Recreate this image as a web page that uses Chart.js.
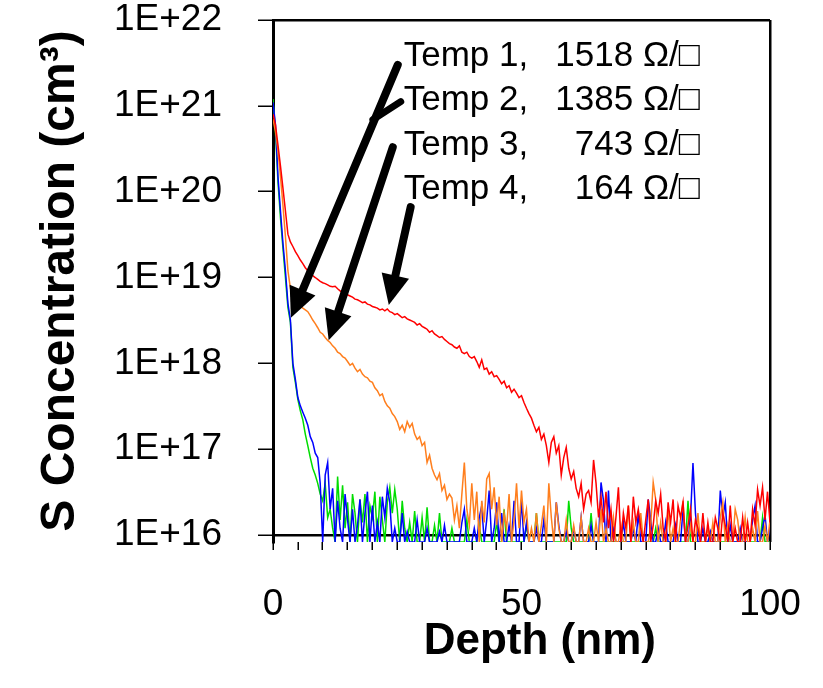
<!DOCTYPE html>
<html>
<head>
<meta charset="utf-8">
<script src="https://cdn.jsdelivr.net/npm/chart.js@4.4.1/dist/chart.umd.min.js"></script>
<style>
html, body { margin: 0; padding: 0; background: #fff; }
</style>
</head>
<body>
<canvas id="profile" width="823" height="688"></canvas>
<script>
// floor of the SIMS noise (just under the 1E+16 line)
const F = 8.3e15;

const depth = [
  0,0.5,1,1.5,2,2.5,3,3.5,4,4.5,5,5.5,6,6.5,7,7.5,8,8.5,9,9.5,
  10,10.5,11,11.5,12,12.5,13,13.5,14,14.5,15,15.5,16,16.5,17,17.5,18,18.5,19,19.5,
  20,20.5,21,21.5,22,22.5,23,23.5,24,24.5,25,25.5,26,26.5,27,27.5,28,28.5,29,29.5,
  30,30.5,31,31.5,32,32.5,33,33.5,34,34.5,35,35.5,36,36.5,37,37.5,38,38.5,39,39.5,
  40,40.5,41,41.5,42,42.5,43,43.5,44,44.5,45,45.5,46,46.5,47,47.5,48,48.5,49,49.5,
  50,50.5,51,51.5,52,52.5,53,53.5,54,54.5,55,55.5,56,56.5,57,57.5,58,58.5,59,59.5,
  60,60.5,61,61.5,62,62.5,63,63.5,64,64.5,65,65.5,66,66.5,67,67.5,68,68.5,69,69.5,
  70,70.5,71,71.5,72,72.5,73,73.5,74,74.5,75,75.5,76,76.5,77,77.5,78,78.5,79,79.5,
  80,80.5,81,81.5,82,82.5,83,83.5,84,84.5,85,85.5,86,86.5,87,87.5,88,88.5,89,89.5,
  90,90.5,91,91.5,92,92.5,93,93.5,94,94.5,95,95.5,96,96.5,97,97.5,98,98.5,99,99.5,
  100
];

// Temp 1 (blue)
const temp1 = [
  1.1e21,6e20,1.5e20,6e19,2.5e19,1.2e19,5e18,3.2e18,1e18,6.5e17,4e17,3.2e17,2.7e17,2.3e17,1.9e17,1.4e17,1.2e17,9e16,8e16,4e16,
  F,5e16,7e16,2e16,3.5e16,F,2.5e16,1.2e16,F,3e16,1.5e16,F,2e16,F,1.3e16,2.6e16,F,1.8e16,3.2e16,F,
  2.2e16,F,1.4e16,F,2.8e16,1.6e16,3.5e16,2.4e16,F,1.2e16,F,F,1.8e16,F,1.1e16,F,F,F,1.5e16,F,
  F,F,1.2e16,F,F,F,F,1.1e16,F,1.3e16,F,F,F,F,F,F,1.4e16,2e16,F,F,
  F,1.2e16,F,1.6e16,2.2e16,F,1.5e16,3.3e16,F,1.2e16,2.4e16,F,1.8e16,F,F,1.3e16,F,2.5e16,F,F,
  2.6e16,F,1.4e16,F,F,F,1.2e16,F,F,1.5e16,F,F,F,F,2.4e16,1.3e16,F,F,1.1e16,F,
  F,1.2e16,F,F,1.6e16,F,F,F,1.3e16,F,F,F,4.1e16,2.5e16,F,3.3e16,F,1.2e16,F,F,
  F,1.4e16,F,F,F,1.2e16,F,1.8e16,F,F,F,2.6e16,1.5e16,F,F,1.2e16,F,F,1.4e16,F,
  F,F,1.3e16,F,F,2e16,F,F,1.6e16,6.9e16,1.8e16,F,F,1.2e16,F,F,1.1e16,F,F,F,
  3.3e16,1.6e16,2.4e16,F,1.3e16,F,F,F,1.2e16,F,F,F,F,1.5e16,2.2e16,F,F,1.2e16,1.7e16,F,
  1.2e16
];

// Temp 2 (green)
const temp2 = [
  1.2e21,5e20,1.3e20,5e19,2.2e19,1e19,4.5e18,3e18,9e17,6e17,3.8e17,2.8e17,2.2e17,1.5e17,1.1e17,8e16,6e16,5e16,4e16,3e16,
  2.5e16,4e16,1.6e16,2e16,1.2e16,F,4.8e16,1.5e16,3.8e16,1.2e16,2.4e16,F,3e16,1.8e16,F,2.6e16,1.4e16,3e16,F,2.2e16,
  1.6e16,3.2e16,F,2.8e16,1.5e16,F,2.4e16,3.6e16,1.8e16,3.4e16,2e16,F,2.5e16,1.2e16,F,1.4e16,F,1.9e16,F,F,
  1.6e16,F,2.1e16,F,F,1.3e16,F,1.8e16,F,F,F,F,1.2e16,F,F,F,F,F,1.5e16,F,
  F,F,F,1.3e16,F,F,F,F,F,F,1.4e16,F,F,2e16,F,F,F,F,F,F,
  F,F,1.3e16,F,F,F,1.8e16,F,F,F,F,F,F,F,F,F,F,F,F,2.5e16,
  1.2e16,F,F,F,F,F,F,F,1.8e16,F,F,F,F,F,F,F,F,F,F,F,
  F,F,F,F,F,F,F,F,F,F,F,F,F,F,1.2e16,F,F,F,F,F,
  F,F,F,F,F,F,F,2.5e16,F,F,F,F,F,F,F,F,F,F,F,F,
  F,F,F,F,F,F,F,F,F,F,F,F,F,F,F,F,F,1.6e16,F,F,
  F
];

// Temp 3 (orange)
const temp3 = [
  7e20,5e20,3e20,1.5e20,7e19,3e19,1.2e19,7.5e18,6e18,5.4e18,5e18,4.7e18,4.4e18,4.2e18,4e18,3.6e18,3.2e18,2.9e18,2.6e18,2.3e18,
  2.2e18,2e18,1.85e18,1.75e18,1.6e18,1.5e18,1.35e18,1.3e18,1.2e18,1.15e18,1.05e18,9.5e17,1e18,8.8e17,8e17,8.5e17,7.5e17,7e17,6.8e17,6.2e17,
  6e17,5.2e17,4.8e17,4.2e17,4.4e17,3.6e17,3.2e17,3e17,2.6e17,2.4e17,2.1e17,1.7e17,1.9e17,1.6e17,2.1e17,1.8e17,2e17,1.5e17,1.3e17,1.4e17,
  1.1e17,1.2e17,7e16,8.5e16,6e16,5e16,4.4e16,5.2e16,3.3e16,3.8e16,2.6e16,3e16,2.7e16,1.5e16,2.2e16,1.2e16,3e16,7e16,2e16,1.3e16,
  4e16,1.5e16,3.2e16,F,2.5e16,1.4e16,4.5e16,5.2e16,2e16,3.6e16,1.3e16,2.8e16,F,1.8e16,1.2e16,3e16,F,1.5e16,4e16,1.2e16,
  3.3e16,1.4e16,2e16,F,1.2e16,F,1.8e16,F,1.3e16,2.2e16,F,4e16,1.6e16,F,2.4e16,1.2e16,F,F,1.5e16,F,
  F,1.3e16,F,F,1.6e16,F,F,1.2e16,F,F,1.4e16,F,2e16,F,1.2e16,F,F,1.6e16,F,F,
  1.3e16,F,F,2.2e16,F,1.4e16,F,F,1.8e16,F,F,F,1.3e16,4.1e16,2.6e16,F,1.4e16,F,F,2e16,
  F,1.2e16,F,F,1.5e16,2.5e16,F,F,1.3e16,F,F,1.8e16,F,F,F,1.2e16,F,1.4e16,F,F,
  1.6e16,2.4e16,F,1.3e16,F,F,2e16,1.5e16,F,F,1.6e16,F,F,1.2e16,F,1.9e16,F,F,1.3e16,F,
  1.5e16
];

// Temp 4 (red)
const temp4 = [
  8e20,6e20,3.5e20,2e20,1.1e20,6e19,3.2e19,2.6e19,2.3e19,2e19,1.8e19,1.6e19,1.45e19,1.3e19,1.2e19,1.12e19,1.05e19,1e19,9.5e18,9e18,
  8.7e18,8.5e18,8.2e18,7.9e18,7.8e18,7.9e18,7.4e18,7e18,6.6e18,6.7e18,6.3e18,6.1e18,5.9e18,5.6e18,5.5e18,5.3e18,5.1e18,5.2e18,4.9e18,4.8e18,
  4.6e18,4.5e18,4.4e18,4.2e18,4.3e18,4.1e18,4.3e18,4e18,3.9e18,3.7e18,3.8e18,3.6e18,3.4e18,3.5e18,3.3e18,3.2e18,3.1e18,3e18,2.8e18,2.9e18,
  2.7e18,2.6e18,2.5e18,2.3e18,2.4e18,2.2e18,2.1e18,2e18,2.05e18,1.9e18,1.8e18,1.7e18,1.65e18,1.55e18,1.5e18,1.6e18,1.35e18,1.3e18,1.35e18,1.2e18,
  1.15e18,1.2e18,1.05e18,9e17,1.1e18,8.5e17,8.8e17,7.5e17,8e17,7e17,7.2e17,6.5e17,5.8e17,6.2e17,5.2e17,5.5e17,4.6e17,5e17,4.5e17,4e17,
  4.2e17,3.5e17,3e17,2.6e17,2.3e17,1.9e17,1.6e17,1.8e17,1.3e17,1.5e17,1.1e17,7e16,1.2e17,1.4e17,9e16,1.1e17,5e16,8e16,1.05e17,6e16,
  4.5e16,5.5e16,3.5e16,2.8e16,4e16,2e16,3e16,3.3e16,2.4e16,7.5e16,4e16,1.6e16,2.8e16,1.4e16,3.2e16,1.2e16,2e16,F,1.6e16,3.6e16,
  F,1.8e16,1.2e16,2.2e16,F,2.8e16,1.4e16,2e16,1.2e16,F,1.5e16,2.6e16,F,1.3e16,2.5e16,1.8e16,3e16,1.2e16,F,2.4e16,
  1.4e16,2.6e16,F,2.2e16,1.6e16,2.4e16,F,1.3e16,2e16,F,1.5e16,1.2e16,F,1.8e16,F,1.4e16,F,F,1.6e16,1.2e16,
  F,1.8e16,1.3e16,F,2.2e16,F,1.2e16,F,F,1.6e16,F,1.4e16,F,2e16,1.3e16,3.4e16,2.2e16,3.6e16,1.5e16,3.2e16,
  1.4e16
];

const seriesNames = ['Temp 1,', 'Temp 2,', 'Temp 3,', 'Temp 4,'];
const sheetRes = ['1518 Ω/□', '1385 Ω/□', '743 Ω/□', '164 Ω/□'];
const yTicks = [1e16, 1e17, 1e18, 1e19, 1e20, 1e21, 1e22];
const xLabels = [0, 50, 100];

const FONT = "'Liberation Sans', Arial, 'DejaVu Sans', sans-serif";

// callout arrows and text, in data units (depth, concentration)
const arrows = [
  { tail: [25.1, 3.0e21], tip: [3.6, 3.4e18] },
  { tail: [24.1, 3.3e20], tip: [11.2, 1.86e18] },
  { tail: [27.7, 6.6e19], tip: [23.3, 4.8e18] }
];
const branch = { from: [25.7, 1.12e21], to: [20.1, 6.9e20] };
const textLeft = 26.3, textRight = 85.9;
const textBase = [2.92e21, 8.98e20, 2.69e20, 8.24e19];

function pts(arr) {
  return depth.map((d, i) => ({ x: d, y: arr[i] }));
}

function drawArrow(ctx, x1, y1, x2, y2) {
  const a = Math.atan2(y2 - y1, x2 - x1);
  const len = 30, half = 14;
  const bx = x2 - len * Math.cos(a), by = y2 - len * Math.sin(a);
  ctx.beginPath();
  ctx.moveTo(x1, y1);
  ctx.lineTo(bx, by);
  ctx.lineWidth = 8;
  ctx.stroke();
  ctx.beginPath();
  ctx.moveTo(x2, y2);
  ctx.lineTo(bx + half * Math.sin(a), by - half * Math.cos(a));
  ctx.lineTo(bx - half * Math.sin(a), by + half * Math.cos(a));
  ctx.closePath();
  ctx.fill();
}

const callouts = {
  id: 'callouts',
  afterDraw(chart) {
    const { ctx } = chart;
    const x = chart.scales.x, y = chart.scales.y;
    ctx.save();
    ctx.strokeStyle = '#000';
    ctx.fillStyle = '#000';
    ctx.lineCap = 'round';
    arrows.forEach(a => {
      drawArrow(ctx, x.getPixelForValue(a.tail[0]), y.getPixelForValue(a.tail[1]),
        x.getPixelForValue(a.tip[0]), y.getPixelForValue(a.tip[1]));
    });
    ctx.beginPath();
    ctx.moveTo(x.getPixelForValue(branch.from[0]), y.getPixelForValue(branch.from[1]));
    ctx.lineTo(x.getPixelForValue(branch.to[0]), y.getPixelForValue(branch.to[1]));
    ctx.lineWidth = 7;
    ctx.stroke();

    ctx.font = '35px ' + FONT;
    ctx.textBaseline = 'alphabetic';
    seriesNames.forEach((name, i) => {
      const py = y.getPixelForValue(textBase[i]);
      ctx.textAlign = 'left';
      ctx.fillText(name, x.getPixelForValue(textLeft), py);
      ctx.textAlign = 'right';
      ctx.fillText(sheetRes[i], x.getPixelForValue(textRight), py);
    });
    ctx.restore();
  }
};

new Chart(document.getElementById('profile'), {
  type: 'line',
  data: {
    datasets: [
      { label: 'Temp 1', data: pts(temp1), borderColor: '#0000ff', order: 2 },
      { label: 'Temp 2', data: pts(temp2), borderColor: '#00dd00', order: 3 },
      { label: 'Temp 3', data: pts(temp3), borderColor: '#ff7f1e', order: 1 },
      { label: 'Temp 4', data: pts(temp4), borderColor: '#ff0000', order: 0 }
    ]
  },
  options: {
    responsive: false,
    animation: false,
    devicePixelRatio: 1,
    layout: { padding: { top: 20, right: 53, left: 0, bottom: 0 } },
    elements: {
      line: { borderWidth: 1.5, tension: 0 },
      point: { radius: 0 }
    },
    plugins: {
      legend: { display: false },
      tooltip: { enabled: false }
    },
    scales: {
      x: {
        type: 'linear',
        min: 0,
        max: 100,
        afterFit: s => { s.height = 146; s.paddingLeft = 0; s.paddingRight = 0; },
        ticks: {
          stepSize: 5,
          autoSkip: false,
          maxRotation: 0,
          padding: 33,
          color: '#000',
          font: { family: FONT, size: 37 },
          callback: v => xLabels.includes(v) ? String(v) : ''
        },
        grid: {
          color: c => (c.tick && c.tick.value === 100) ? '#000' : 'rgba(0,0,0,0)',
          lineWidth: 2.5,
          tickLength: 8,
          tickColor: '#000',
          tickWidth: 1.5
        },
        border: { display: false },
        title: {
          display: true,
          text: '   Depth (nm)',
          color: '#000',
          font: { family: FONT, size: 44, weight: 'bold' },
          padding: { top: 0, bottom: 20 }
        }
      },
      y: {
        type: 'logarithmic',
        min: F,
        max: 1e22,
        afterBuildTicks: s => { s.ticks = yTicks.map(v => ({ value: v })); },
        afterFit: s => { s.width = 273; s.paddingTop = 0; s.paddingBottom = 0; },
        ticks: {
          padding: 36,
          color: '#000',
          font: { family: FONT, size: 37 },
          callback: v => '1E+' + Math.round(Math.log10(v))
        },
        grid: {
          color: c => (c.tick && (c.tick.value === 1e16 || c.tick.value === 1e22)) ? '#000' : 'rgba(0,0,0,0)',
          lineWidth: 2.5,
          tickLength: 15,
          tickColor: '#000',
          tickWidth: 1.5
        },
        border: { color: '#000', width: 3 },
        title: {
          display: true,
          text: 'S Concentration (cm³)',
          color: '#000',
          font: { family: FONT, size: 48, weight: 'bold' },
          padding: { top: 32, bottom: 0 }
        }
      }
    }
  },
  plugins: [callouts]
});
</script>
</body>
</html>
